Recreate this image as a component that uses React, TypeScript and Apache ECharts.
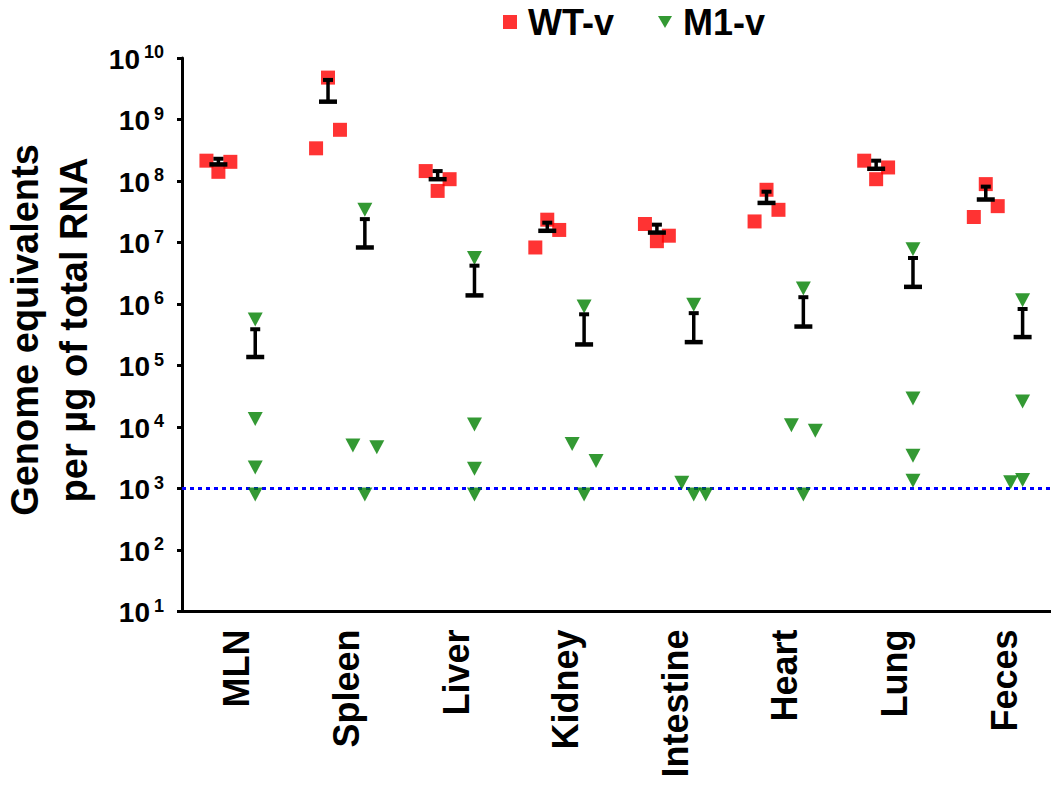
import React, { useEffect, useRef } from "react";
import * as echarts from "echarts";

// ---------- data ----------
const TISSUES = ["MLN", "Spleen", "Liver", "Kidney", "Intestine", "Heart", "Lung", "Feces"];

// WT-v values per tissue, in order left / middle / right within the group
const WT_VALUES = [
  [2.14e8, 1.41e8, 2.05e8],
  [3.4e8, 4.8e9, 6.8e8],
  [1.45e8, 6.9e7, 1.07e8],
  [8.3e6, 2.35e7, 1.6e7],
  [2.0e7, 1.05e7, 1.29e7],
  [2.2e7, 7.2e7, 3.4e7],
  [2.14e8, 1.07e8, 1.66e8],
  [2.6e7, 8.9e7, 3.9e7],
];
const WT_MEAN = [1.86e8, 1.95e9, 1.07e8, 1.55e7, 1.45e7, 4.4e7, 1.58e8, 5.0e7];
const WT_UPPER = [2.3e8, 4.4e9, 1.45e8, 2.1e7, 1.95e7, 6.7e7, 2.14e8, 8.1e7];

// M1-v values per tissue
const M1_VALUES = [
  [5.6e5, 1.35e4, 2.2e3, 800],
  [3.4e7, 5.0e3, 4.7e3, 800],
  [5.6e6, 1.1e4, 2.1e3, 800],
  [9.1e5, 5.3e3, 2.8e3, 800],
  [9.7e5, 1.24e3, 800, 800],
  [1.78e6, 1.07e4, 8.7e3, 800],
  [7.8e6, 2.9e4, 3.4e3, 1.34e3],
  [1.15e6, 2.6e4, 1.26e3, 1.38e3],
];
const M1_MEAN = [1.38e5, 8.3e6, 1.38e6, 2.2e5, 2.4e5, 4.3e5, 1.9e6, 2.9e5];
const M1_UPPER = [3.9e5, 2.4e7, 4.2e6, 6.8e5, 7.1e5, 1.29e6, 5.6e6, 8.3e5];

const LOD = 1000; // detection limit (dotted line)

// ---------- layout (jitter slots, not data) ----------
const WT_SLOTS = [-1, 0, 1];
const M1_SLOTS = [
  [0, 0, 0, 0],
  [0, -1, 1, 0],
  [0, 0, 0, 0],
  [0, -1, 1, 0],
  [0, -1, 0, 1],
  [0, -1, 1, 0],
  [0, 0, 0, 0],
  [0, 0, -1, 0],
];
const GROUP_OFFSET = 0.168;
const JITTER = 0.109;

const FONT = "'Liberation Sans', Arial, Helvetica, sans-serif";

export default function App() {
  const ref = useRef<HTMLDivElement>(null);

  useEffect(() => {
    if (!ref.current) return;
    const chart = echarts.init(ref.current, null, { renderer: "svg" });

    const wtData: number[][] = [];
    WT_VALUES.forEach((vals, i) => {
      vals.forEach((v, j) => {
        wtData.push([i + 0.5 - GROUP_OFFSET + WT_SLOTS[j] * JITTER, v]);
      });
    });
    const m1Data: number[][] = [];
    M1_VALUES.forEach((vals, i) => {
      vals.forEach((v, j) => {
        m1Data.push([i + 0.5 + GROUP_OFFSET + M1_SLOTS[i][j] * JITTER, v]);
      });
    });
    const errData: number[][] = [];
    TISSUES.forEach((_, i) => {
      errData.push([i + 0.5 - GROUP_OFFSET, WT_MEAN[i], WT_UPPER[i]]);
      errData.push([i + 0.5 + GROUP_OFFSET, M1_MEAN[i], M1_UPPER[i]]);
    });

    const option: any = {
      animation: false,
      backgroundColor: "#ffffff",
      textStyle: { fontFamily: FONT },
      grid: { left: 182, top: 58, width: 880, height: 553.5, containLabel: false },
      legend: {
        left: 503,
        top: 4,
        padding: 0,
        itemWidth: 14,
        itemHeight: 14,
        itemGap: 44,
        selectedMode: false,
        textStyle: { fontSize: 36, fontWeight: "bold", color: "#000", fontFamily: FONT, padding: [0, 0, 0, 6] },
        data: [
          { name: "WT-v", icon: "rect" },
          { name: "M1-v", icon: "path://M0,0L13,0L6.5,11Z" },
        ],
      },
      xAxis: [
        {
          type: "category",
          data: TISSUES,
          boundaryGap: true,
          axisLine: { lineStyle: { color: "#000", width: 3 } },
          axisTick: { show: false },
          splitLine: { show: false },
          axisLabel: {
            rotate: 90,
            margin: 18,
            color: "#000",
            fontSize: 36,
            fontWeight: "bold",
            fontFamily: FONT,
            interval: 0,
          },
        },
        {
          type: "value",
          min: 0,
          max: 8,
          show: false,
          splitLine: { show: false },
        },
      ],
      yAxis: {
        type: "log",
        logBase: 10,
        min: 10,
        max: 1e10,
        splitNumber: 9,
        axisLine: { show: true, lineStyle: { color: "#000", width: 3 } },
        axisTick: { show: true, length: 5, lineStyle: { color: "#000", width: 3 } },
        splitLine: { show: false },
        minorTick: { show: false },
        axisLabel: {
          margin: 18,
          color: "#000",
          formatter: (v: number) => `{b|10}{s|${Math.round(Math.log10(v))}}`,
          rich: {
            b: { fontSize: 28, fontWeight: "bold", color: "#000", fontFamily: FONT, lineHeight: 30, verticalAlign: "bottom" },
            s: { fontSize: 18, fontWeight: "bold", color: "#000", fontFamily: FONT, lineHeight: 18, verticalAlign: "top", padding: [0, 0, 0, 4] },
          },
        },
      },
      graphic: [
        {
          type: "text",
          x: 49,
          y: 330,
          rotation: Math.PI / 2,
          style: {
            text: "Genome equivalents\nper µg of total RNA",
            fontSize: 38,
            fontWeight: "bold",
            fontFamily: FONT,
            fill: "#000",
            lineHeight: 49,
            align: "center",
            verticalAlign: "middle",
            textAlign: "center",
            textVerticalAlign: "middle",
          },
        },
      ],
      series: [
        {
          name: "LOD",
          type: "line",
          xAxisIndex: 1,
          yAxisIndex: 0,
          data: [
            [0, LOD],
            [8, LOD],
          ],
          symbol: "none",
          silent: true,
          z: 1,
          lineStyle: { color: "#0000ff", width: 3, type: [4, 4] },
        },
        {
          name: "WT-v",
          type: "scatter",
          xAxisIndex: 1,
          yAxisIndex: 0,
          symbol: "rect",
          symbolSize: 14,
          itemStyle: { color: "#ff0000" },
          z: 3,
          data: wtData,
        },
        {
          name: "M1-v",
          type: "scatter",
          xAxisIndex: 1,
          yAxisIndex: 0,
          symbol: "triangle",
          symbolRotate: 180,
          symbolSize: [15, 14],
          itemStyle: { color: "#008000" },
          z: 3,
          data: m1Data,
        },
        {
          name: "SEM",
          type: "custom",
          xAxisIndex: 1,
          yAxisIndex: 0,
          z: 5,
          silent: true,
          encode: { x: 0, y: [1, 2] },
          data: errData,
          renderItem: (params: any, api: any) => {
            const x = api.value(0);
            const pm = api.coord([x, api.value(1)]);
            const pu = api.coord([x, api.value(2)]);
            return {
              type: "group",
              children: [
                {
                  type: "line",
                  shape: { x1: pm[0], y1: pm[1], x2: pu[0], y2: pu[1] },
                  style: { stroke: "#000", lineWidth: 3.5 },
                },
                {
                  type: "rect",
                  shape: { x: pu[0] - 5, y: pu[1] - 2, width: 10, height: 4 },
                  style: { fill: "#000" },
                },
                {
                  type: "rect",
                  shape: { x: pm[0] - 9, y: pm[1] - 2.25, width: 18, height: 4.5 },
                  style: { fill: "#000" },
                },
              ],
            };
          },
        },
      ],
    };

    chart.setOption(option);
    return () => chart.dispose();
  }, []);

  return <div ref={ref} style={{ width: 1059, height: 790, margin: -8 }} />;
}
